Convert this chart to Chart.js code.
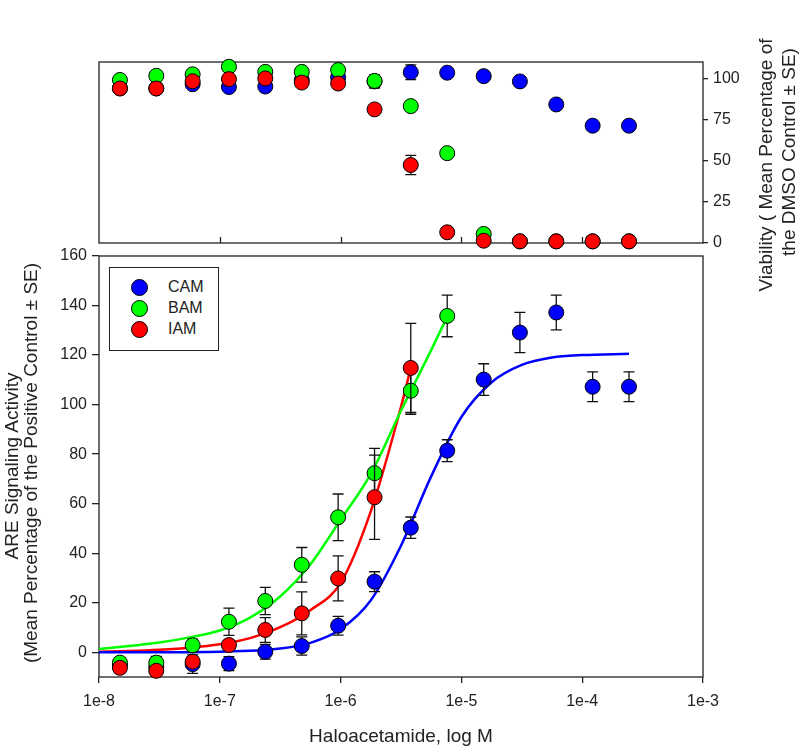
<!DOCTYPE html>
<html>
<head>
<meta charset="utf-8">
<script src="https://cdn.jsdelivr.net/npm/chart.js@4.4.1/dist/chart.umd.min.js"></script>
<style>
    body { margin: 0; background: #fff; }
    #wrap { position: relative; width: 800px; height: 748px; font-family: "Liberation Sans", Arial, sans-serif; color: #222; }
    #wrap canvas { position: absolute; left: 0; top: 0; }
    .title { position: absolute; white-space: nowrap; font-size: 19px; transform: translate(-50%, -50%); }
    .title.rot { transform: translate(-50%, -50%) rotate(-90deg); }
    .legend { position: absolute; left: 109px; top: 267px; width: 108px; height: 82px; border: 1px solid #222; background: #fff; }
    .legend .item { position: absolute; left: 0; height: 20px; font-size: 16px; line-height: 20px; }
    .legend .dot { position: absolute; left: 21px; top: 2px; width: 15px; height: 15px; border-radius: 50%; border: 1px solid #000; }
    .legend .label { position: absolute; left: 58px; top: 0; }
</style>
</head>
<body>
<div id="wrap">
    <canvas id="viabilityChart" width="800" height="748"></canvas>
    <canvas id="areChart" width="800" height="748"></canvas>

    <div class="legend">
        <div class="item" style="top:9px"><span class="dot" style="background:#0000ff"></span><span class="label">CAM</span></div>
        <div class="item" style="top:30px"><span class="dot" style="background:#00ff00"></span><span class="label">BAM</span></div>
        <div class="item" style="top:51px"><span class="dot" style="background:#ff0000"></span><span class="label">IAM</span></div>
    </div>

    <div class="title rot" style="left:12px; top:466px">ARE Signaling Activity</div>
    <div class="title rot" style="left:31px; top:463px">(Mean Percentage of the Positive Control ± SE)</div>
    <div class="title rot" style="left:766px; top:165px">Viability ( Mean Percentage of</div>
    <div class="title rot" style="left:789px; top:152px">the DMSO Control ± SE)</div>
    <div class="title" style="left:401px; top:736px">Haloacetamide, log M</div>
</div>

<script>
// Concentrations (M), two-fold dilution series
const conc = [1.49e-8, 2.98e-8, 5.96e-8, 1.19e-7, 2.38e-7, 4.77e-7, 9.54e-7, 1.91e-6,
    3.81e-6, 7.63e-6, 1.53e-5, 3.05e-5, 6.10e-5, 1.22e-4, 2.44e-4];

// Viability (% of DMSO control)
const viaCam = [94, 94, 96.5, 94.8, 95.1, 99, 100.6, 98.2, 103.8, 103.5, 101.4, 98.2, 84.2, 71.3, 71.3];
const viaCamErr = [2, 2, 2, 2, 2.5, 1.5, 2, 4, 4.5, 2.5, 2, 2.5, 2, 2.5, 2.5];
const viaBam = [99.1, 101.6, 102.5, 107.1, 104, 104, 105.1, 98.5, 83.2, 54.6, 5.5, 1, 1, 1, 1];
const viaBamErr = [2, 2, 2, 2, 2, 1.5, 2, 2, 1.5, 2, 1, 0.5, 0.5, 0.5, 0.5];
const viaIam = [93.9, 93.9, 98.3, 99.6, 100, 97.5, 96.9, 81.2, 47.4, 6.5, 1.4, 1, 1, 1, 1];
const viaIamErr = [2, 2, 1.5, 2, 1.5, 1.5, 1.5, 2.5, 5.9, 1, 0.5, 0.5, 0.5, 0.5, 0.5];

// ARE signaling activity (% of positive control)
const areCam = [-5, -6, -4.8, -4.6, 0.2, 2.5, 10.7, 28.5, 50.3, 81.4, 110.1, 129.1, 137.2, 107.2, 107.2];
const areCamErr = [2, 2, 3.7, 2.8, 3, 3.7, 3.8, 4, 4.3, 4.4, 6.4, 8.1, 7, 6, 6];
const areBam = [-4.2, -4.2, 2.8, 12.3, 20.7, 35.3, 54.5, 72.3, 105.6, 135.8];
const areBamErr = [2, 2.5, 2.5, 5.5, 5.5, 7, 9.4, 10, 9.5, 8.4];
const areIam = [-6.3, -7.5, -3.8, 2.9, 9, 15.7, 29.8, 62.6, 114.8];
const areIamErr = [2, 1.5, 2, 2, 5, 8.7, 9.1, 17, 18];

// Fitted curves
const camFitX = [1e-8, 3.16e-8, 1e-7, 3.16e-7, 5.62e-7, 1e-6, 1.78e-6, 3.16e-6, 5.62e-6, 1e-5, 1.78e-5, 3.16e-5, 5.62e-5, 1e-4, 2.44e-4];
const camFitY = [0, 0, 0.2, 1.5, 3.8, 9.3, 21, 43, 71, 95, 109, 116, 119, 120, 120.5];
const bamFitX = [1e-8, 1.78e-8, 3.16e-8, 5.62e-8, 1e-7, 1.78e-7, 3.16e-7, 5.62e-7, 1e-6, 1.78e-6, 3.16e-6, 5.62e-6, 7.63e-6];
const bamFitY = [1.3, 2.5, 3.9, 6, 8.8, 14, 22.5, 35.5, 53.5, 72, 97.5, 122, 135.5];
const iamFitX = [1e-8, 1.78e-8, 3.16e-8, 5.62e-8, 1e-7, 1.78e-7, 3.16e-7, 5.62e-7, 1e-6, 1.78e-6, 3.16e-6, 3.81e-6];
const iamFitY = [0.2, 0.5, 1, 1.8, 3.2, 5.7, 10.1, 17, 28, 57, 99, 114.8];

// Axis ticks
const xTicks = [1e-8, 1e-7, 1e-6, 1e-5, 1e-4, 1e-3];
const areTicks = [0, 20, 40, 60, 80, 100, 120, 140, 160];
const viaTicks = [0, 25, 50, 75, 100];

const BLUE = '#0000ff', GREEN = '#00ff00', RED = '#ff0000', INK = '#222';
const FONT = { family: "'Liberation Sans', Arial, sans-serif", size: 16 };

// Error bars drawn just before each dataset's markers
const errorBars = {
    id: 'errorBars',
    beforeDatasetDraw(chart, args) {
        const ds = chart.data.datasets[args.index];
        if (!ds.err) return;
        const ctx = chart.ctx;
        const x = chart.scales.x, y = chart.scales.y;
        ctx.save();
        ctx.strokeStyle = '#111';
        ctx.lineWidth = 1.3;
        ds.data.forEach((p, i) => {
            const px = x.getPixelForValue(p.x);
            const top = y.getPixelForValue(p.y + ds.err[i]);
            const bot = y.getPixelForValue(p.y - ds.err[i]);
            ctx.beginPath();
            ctx.moveTo(px, top); ctx.lineTo(px, bot);
            ctx.moveTo(px - 5.5, top); ctx.lineTo(px + 5.5, top);
            ctx.moveTo(px - 5.5, bot); ctx.lineTo(px + 5.5, bot);
            ctx.stroke();
        });
        ctx.restore();
    }
};

// Box round the plot area, plus inward ticks on the viability panel
const panelFrame = {
    id: 'panelFrame',
    beforeDatasetsDraw(chart, args, opts) {
        const { ctx, chartArea: a } = chart;
        ctx.save();
        ctx.strokeStyle = INK;
        ctx.lineWidth = 1.3;
        ctx.strokeRect(a.left, a.top, a.right - a.left, a.bottom - a.top);
        if (opts.innerTicks) {
            const x = chart.scales.x;
            ctx.beginPath();
            xTicks.slice(1, -1).forEach(v => {
                const px = Math.round(x.getPixelForValue(v)) + 0.5;
                ctx.moveTo(px, a.bottom);
                ctx.lineTo(px, a.bottom - 6);
            });
            ctx.stroke();
        }
        ctx.restore();
    }
};

function markers(label, values, err, color, order) {
    return {
        label: label,
        data: values.map((v, i) => ({ x: conc[i], y: v })),
        err: err,
        backgroundColor: color,
        borderColor: '#000',
        borderWidth: 1,
        pointRadius: 7.5,
        order: order,
        clip: false
    };
}

function fitLine(xs, ys, color) {
    return {
        data: xs.map((v, i) => ({ x: v, y: ys[i] })),
        showLine: true,
        borderColor: color,
        borderWidth: 2.5,
        pointRadius: 0,
        cubicInterpolationMode: 'monotone',
        order: 10
    };
}

function logX(display) {
    const axis = {
        type: 'logarithmic',
        min: 1e-8,
        max: 1e-3,
        display: display,
        afterBuildTicks: s => { s.ticks = xTicks.map(v => ({ value: v })); },
        grid: { drawOnChartArea: false, drawTicks: true, tickLength: 6, color: INK, lineWidth: 1.3 },
        border: { display: false },
        ticks: {
            color: INK, font: FONT, padding: 9, maxRotation: 0, autoSkip: false,
            callback: v => '1e' + Math.round(Math.log10(v))
        }
    };
    // only the visible axis reserves room below the plot
    if (display) axis.afterFit = s => { s.height = 71; };
    return axis;
}

const common = {
    responsive: false,
    animation: false,
    events: [],
    plugins: { legend: { display: false }, tooltip: { enabled: false } }
};

// Top panel: viability
new Chart(document.getElementById('viabilityChart'), {
    type: 'scatter',
    data: {
        datasets: [
            markers('CAM', viaCam, viaCamErr, BLUE, 3),
            markers('BAM', viaBam, viaBamErr, GREEN, 2),
            markers('IAM', viaIam, viaIamErr, RED, 1)
        ]
    },
    options: {
        ...common,
        layout: { padding: { left: 99, top: 62, right: 0, bottom: 505 } },
        plugins: { ...common.plugins, panelFrame: { innerTicks: true } },
        scales: {
            x: logX(false),
            y: {
                position: 'right',
                min: 0,
                max: 110,
                afterBuildTicks: s => { s.ticks = viaTicks.map(v => ({ value: v })); },
                afterFit: s => { s.width = 97; },
                grid: { drawOnChartArea: false, drawTicks: true, tickLength: 5, color: INK, lineWidth: 1.3 },
                border: { display: false },
                ticks: { color: INK, font: FONT, padding: 5 }
            }
        }
    },
    plugins: [errorBars, panelFrame]
});

// Bottom panel: ARE signaling
new Chart(document.getElementById('areChart'), {
    type: 'scatter',
    data: {
        datasets: [
            fitLine(camFitX, camFitY, BLUE),
            fitLine(bamFitX, bamFitY, GREEN),
            fitLine(iamFitX, iamFitY, RED),
            markers('CAM', areCam, areCamErr, BLUE, 3),
            markers('BAM', areBam, areBamErr, GREEN, 2),
            markers('IAM', areIam, areIamErr, RED, 1)
        ]
    },
    options: {
        ...common,
        layout: { padding: { left: 0, top: 256, right: 97, bottom: 0 } },
        plugins: { ...common.plugins, panelFrame: { innerTicks: false } },
        scales: {
            x: logX(true),
            y: {
                min: -10,
                max: 160,
                afterBuildTicks: s => { s.ticks = areTicks.map(v => ({ value: v })); },
                afterFit: s => { s.width = 99; },
                grid: { drawOnChartArea: false, drawTicks: true, tickLength: 7, color: INK, lineWidth: 1.3 },
                border: { display: false },
                ticks: { color: INK, font: FONT, padding: 5 }
            }
        }
    },
    plugins: [errorBars, panelFrame]
});
</script>
</body>
</html>
